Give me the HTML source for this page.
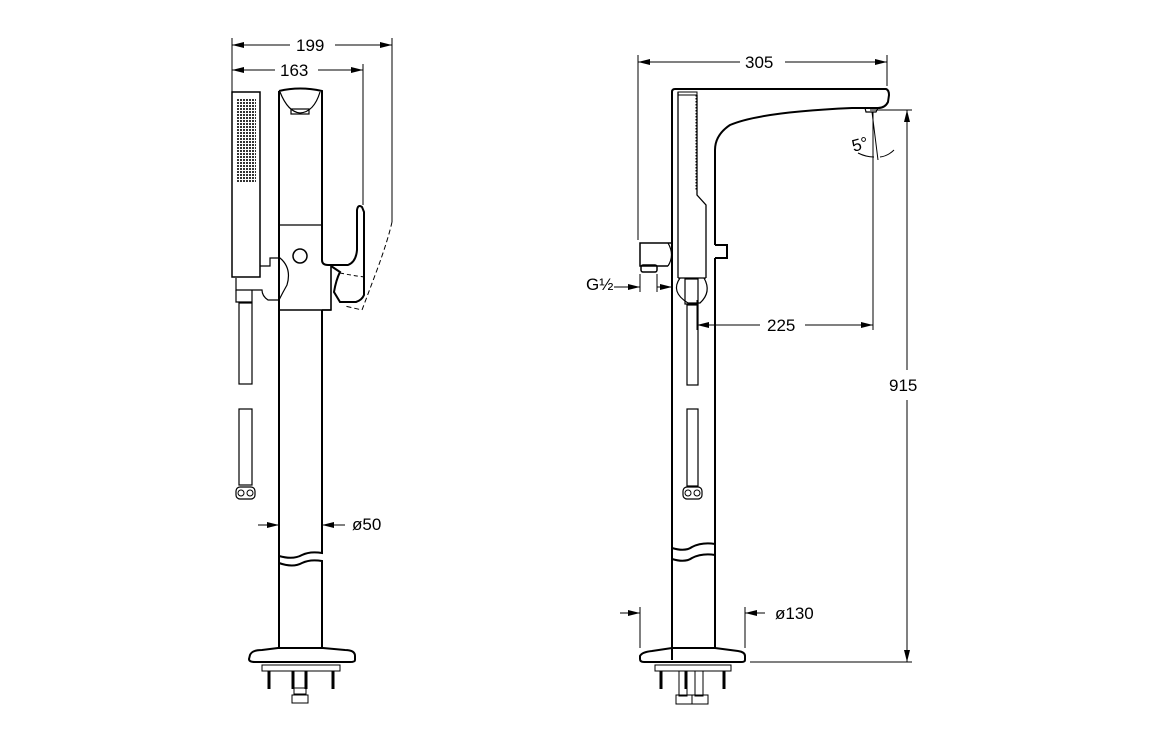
<!DOCTYPE html>
<html><head><style>
html,body{margin:0;padding:0;background:#fff;}
svg{display:block;}
text{font-family:"Liberation Sans",sans-serif;font-size:17px;fill:#000;}
</style></head><body>
<svg width="1156" height="742" viewBox="0 0 1156 742" xmlns="http://www.w3.org/2000/svg">
<defs>
<marker id="a" markerWidth="12" markerHeight="6" refX="12" refY="3" orient="auto" markerUnits="userSpaceOnUse"><path d="M0,0 L12,3 L0,6 Z" fill="#000"/></marker>
<pattern id="dots" width="3" height="3" patternUnits="userSpaceOnUse"><rect width="2" height="2" fill="#333"/></pattern>
</defs>
<g stroke="#000" fill="none" stroke-width="1">
<line x1="232" y1="38" x2="232" y2="92"/>
<line x1="392" y1="38" x2="392" y2="222"/>
<line x1="363" y1="64" x2="363" y2="205"/>
<line x1="290" y1="45" x2="232" y2="45" marker-end="url(#a)"/>
<line x1="335" y1="45" x2="392" y2="45" marker-end="url(#a)"/>
<line x1="275" y1="70" x2="232" y2="70" marker-end="url(#a)"/>
<line x1="318" y1="70" x2="363" y2="70" marker-end="url(#a)"/>
<line x1="258" y1="525" x2="279" y2="525" marker-end="url(#a)"/>
<line x1="345" y1="525" x2="322" y2="525" marker-end="url(#a)"/>
</g>
<text x="296" y="51">199</text>
<text x="280" y="76">163</text>
<text x="352" y="530">ø50</text>

<g stroke="#000" fill="none" stroke-width="2">
<rect x="232" y="92" width="28" height="185" stroke-width="1.5"/>
<rect x="236" y="98" width="20" height="84" fill="url(#dots)" stroke="none"/>
<path d="M260,266 L270,266 L270,258 L280,258 Q292,268 287,285 Q283,292 279,300 L268,300 Q262,296 262,290 L236,290 L236,278" stroke-width="1.2"/>
<path d="M236,290 L236,302 L252,302 L252,290" stroke-width="1.2"/>
<rect x="239" y="303" width="13" height="81" stroke-width="1.2"/>
<rect x="239" y="409" width="13" height="76" stroke-width="1.2"/>
<rect x="236" y="487" width="19" height="12" rx="4" stroke-width="1.2"/>
<circle cx="241" cy="493" r="3" stroke-width="1"/><circle cx="250" cy="493" r="3" stroke-width="1"/>
<path d="M279,91 Q300,86 322,91 L322,222"/>
<path d="M279,91 L279,648"/>
<path d="M280,92 Q288,112 300,113 Q314,112 320,92" stroke-width="1.2"/>
<rect x="291" y="109" width="18" height="5" stroke-width="1.2"/>
<path d="M279,225 L322,225" stroke-width="1.3"/>
<path d="M322,222 L322,260 Q322,265 328,265 L348,265 Q356,262 357,250 L357,210 Q358,204 362,207 L364,212 L364,295 Q362,300 356,302 L340,302 L334,292 Q336,280 340,272 L331,266"/>
<path d="M331,266 L331,310 L322,310" stroke-width="1.6"/>
<path d="M279,310 L331,310" stroke-width="1.6"/>
<circle cx="300" cy="256" r="7" stroke-width="1.5"/>
<path d="M392,222 Q388,240 377,270 L362,310 L345,306" stroke-dasharray="5,3" stroke-width="1"/>
<path d="M340,273 Q355,276 365,277" stroke-width="1" stroke-dasharray="4,3"/>
<path d="M322,310 L322,553 Q310,551 302,555 Q293,560 279,556"/>
<path d="M279,563 Q293,568 302,563 Q310,559 322,561 L322,648"/>
<path d="M279,563 L279,648"/>
<path d="M250,655 Q252,650 262,650 L278,648 L323,648 L345,650 Q355,650 355,656 L355,660 Q355,662 350,662 L255,662 Q249,662 249,659 Z"/>
<rect x="262" y="665" width="78" height="6" stroke-width="1"/>
<g stroke-width="3"><line x1="269" y1="671" x2="269" y2="689"/><line x1="293" y1="671" x2="293" y2="689"/><line x1="306" y1="671" x2="306" y2="689"/><line x1="333" y1="671" x2="333" y2="689"/></g>
<rect x="294" y="688" width="12" height="6" stroke-width="1"/>
<rect x="292" y="695" width="16" height="8" stroke-width="1"/>
</g>

<g stroke="#000" fill="none" stroke-width="1">
<line x1="638" y1="55" x2="638" y2="240"/>
<line x1="887" y1="55" x2="887" y2="86"/>
<line x1="740" y1="62" x2="638" y2="62" marker-end="url(#a)"/>
<line x1="785" y1="62" x2="887" y2="62" marker-end="url(#a)"/>
<line x1="873" y1="112" x2="873" y2="330"/>
<line x1="870" y1="110" x2="912" y2="110"/>
<line x1="750" y1="662" x2="912" y2="662"/>
<line x1="907" y1="370" x2="907" y2="110" marker-end="url(#a)"/>
<line x1="907" y1="400" x2="907" y2="662" marker-end="url(#a)"/>
<line x1="872" y1="112" x2="878" y2="160"/>
<path d="M858,153 Q866,157 874,157" />
<path d="M880,157 Q888,156 894,150" />
<line x1="760" y1="325" x2="697" y2="325" marker-end="url(#a)"/>
<line x1="805" y1="325" x2="873" y2="325" marker-end="url(#a)"/>
<line x1="697" y1="300" x2="697" y2="330"/>
<line x1="614" y1="287" x2="640" y2="287" marker-end="url(#a)"/>
<line x1="640" y1="274" x2="640" y2="292"/>
<line x1="657" y1="274" x2="657" y2="292"/>
<line x1="657" y1="287" x2="672" y2="287" marker-end="url(#a)"/>
<line x1="620" y1="613" x2="640" y2="613" marker-end="url(#a)"/>
<line x1="765" y1="613" x2="745" y2="613" marker-end="url(#a)"/>
<line x1="640" y1="607" x2="640" y2="648"/>
<line x1="745" y1="607" x2="745" y2="648"/>
</g>
<text x="745" y="68">305</text>
<text x="767" y="331">225</text>
<text x="889" y="391">915</text>
<text x="852" y="150" transform="rotate(-15 860 145)">5°</text>
<text x="586" y="290">G½</text>
<text x="775" y="619">ø130</text>

<g stroke="#000" fill="none" stroke-width="2">
<path d="M672,660 L672,92 Q672,89 675,89 L886,89 Q889,90 889,95 L888,102 Q885,108 878,108 L852,108 Q760,112 730,125 Q715,135 715,150 L715,245"/>
<path d="M865,108 L866,112 L876,112 L878,108" stroke-width="1.2"/>
<rect x="678" y="92" width="19" height="3" stroke-width="1"/>
<path d="M678,92 L678,278" stroke-width="1.3"/>
<path d="M697,95 L697,195 L706,205 L706,278" stroke-width="1.3"/>
<line x1="696" y1="95" x2="696" y2="190" stroke-dasharray="1.5,1.5" stroke-width="1"/>
<path d="M678,278 L706,278" stroke-width="1.3"/>
<path d="M715,245 L727,245 L727,258 L715,258"/>
<path d="M715,258 L715,648"/>
<path d="M672,243 L640,243 L640,266 L668,266" stroke-width="1.5"/>
<path d="M668,243 Q675,255 668,266" stroke-width="1.2"/>
<rect x="641" y="265" width="16" height="7" rx="2" stroke-width="1.5"/>
<path d="M680,278 Q670,292 688,303 L700,303 Q712,292 704,278" stroke-width="1.2"/>
<rect x="685" y="279" width="13" height="25" stroke-width="1.2"/>
<rect x="687" y="305" width="11" height="80" stroke-width="1.2"/>
<rect x="687" y="409" width="11" height="77" stroke-width="1.2"/>
<rect x="683" y="487" width="19" height="12" rx="4" stroke-width="1.2"/>
<circle cx="688" cy="493" r="3" stroke-width="1"/><circle cx="697" cy="493" r="3" stroke-width="1"/>
<path d="M672,548 Q685,552 692,547 Q702,542 715,544"/>
<path d="M672,559 Q685,563 692,558 Q702,553 715,555"/>
<path d="M640,656 Q642,652 652,651 L672,648 L715,648 L738,651 Q745,652 745,656 L745,660 Q745,662 741,662 L644,662 Q640,662 640,659 Z"/>
<rect x="655" y="665" width="76" height="6" stroke-width="1"/>
<g stroke-width="3"><line x1="661" y1="671" x2="661" y2="689"/><line x1="686" y1="671" x2="686" y2="689"/><line x1="724" y1="671" x2="724" y2="689"/></g>
<rect x="679" y="671" width="8" height="25" stroke-width="1"/>
<rect x="695" y="671" width="8" height="25" stroke-width="1"/>
<rect x="676" y="695" width="16" height="9" stroke-width="1"/>
<rect x="692" y="695" width="16" height="9" stroke-width="1"/>
</g>
</svg>
</body></html>
